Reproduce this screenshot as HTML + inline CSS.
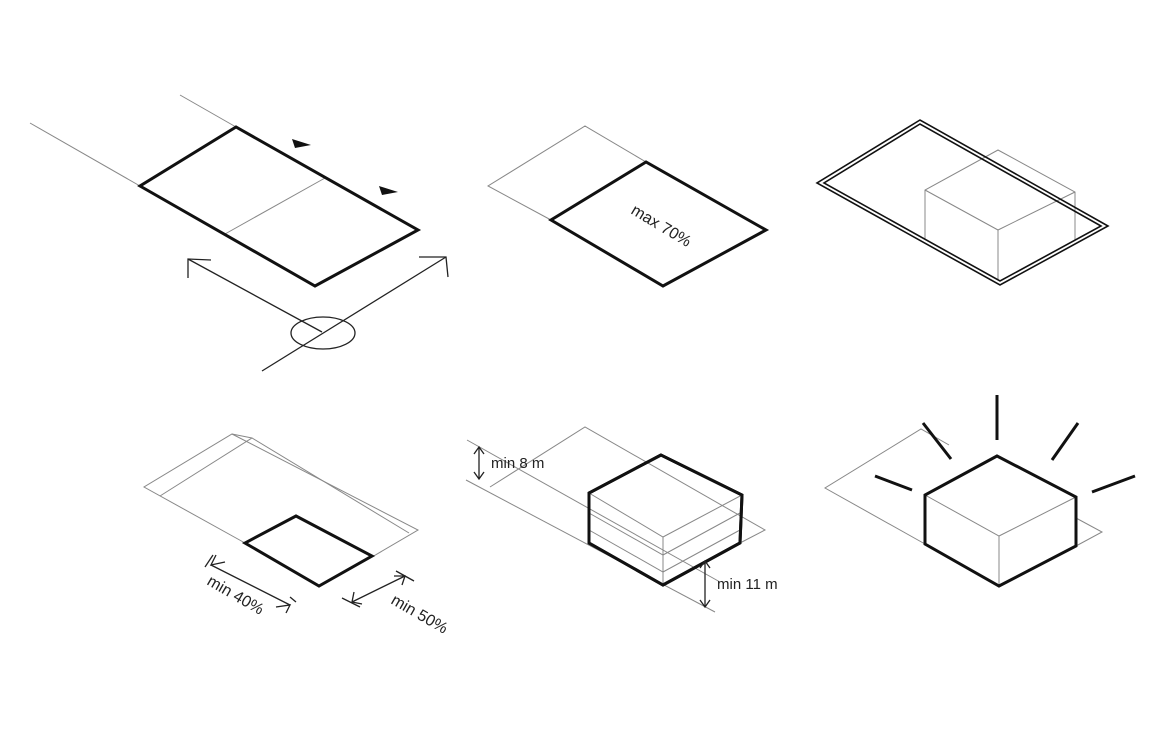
<!DOCTYPE html>
<html><head><meta charset="utf-8"><style>
html,body{margin:0;padding:0;background:#fff;}
svg{display:block;}
text{font-family:"Liberation Sans",sans-serif;fill:#222;}
.t{stroke:#888;stroke-width:1;fill:none;}
.k{stroke:#111;stroke-width:3;fill:none;stroke-linejoin:miter;}
.m{stroke:#222;stroke-width:1.3;fill:none;}
</style></head><body>
<svg width="1170" height="731" viewBox="0 0 1170 731" xmlns="http://www.w3.org/2000/svg">
<!-- Panel 1 -->
<line class="t" x1="30" y1="123" x2="140" y2="186"/>
<line class="t" x1="180" y1="95" x2="236" y2="127"/>
<line class="t" x1="325" y1="178" x2="225" y2="234"/>
<polygon class="k" points="236,127 140,186 315,286 418,230"/>
<polygon points="292,139 311,145 295,148" fill="#111"/>
<polygon points="379,186 398,192 382,195" fill="#111"/>
<polyline class="m" points="322,332 188,259"/>
<polyline class="m" points="211,260 188,259 188,278"/>
<polyline class="m" points="262,371 446,257"/>
<polyline class="m" points="419,257 446,257 448,277"/>
<ellipse class="m" cx="323" cy="333" rx="32" ry="16"/>
<!-- Panel 2 -->
<polyline class="t" points="551,220 488,186 585,126 646,162"/>
<polygon class="k" points="646,162 551,220 663,286 766,230"/>
<text x="0" y="0" font-size="16" transform="translate(630,213) rotate(31)">max 70%</text>
<!-- Panel 3 -->
<polyline class="t" points="925,240 925,190 998,150 1075,192 1075,240"/>
<polyline class="t" points="925,190 998,230 1075,192"/>
<line class="t" x1="998" y1="230" x2="998" y2="280"/>
<polygon points="920,120 817,183 1000,285 1108,226" fill="none" stroke="#111" stroke-width="1.6"/>
<polygon points="920,124 824,183 1000,281 1101,226" fill="none" stroke="#111" stroke-width="1.6"/>
<!-- Panel 4 -->
<polyline class="t" points="245,543 144,487 232,434 418,530 372,557"/>
<polyline class="t" points="160,496 252,438 409,533"/>
<line class="t" x1="232" y1="434" x2="252" y2="438"/>
<polygon class="k" points="296,516 245,543 319,586 372,556"/>
<line class="m" x1="211" y1="565" x2="290" y2="605"/>
<polyline class="m" points="225,562 211,565 216,555"/>
<polyline class="m" points="276,607 290,605 286,613"/>
<line class="m" x1="213" y1="555" x2="205" y2="567"/>
<line class="m" x1="290" y1="597" x2="296" y2="602"/>
<text font-size="16" transform="translate(206,584) rotate(30)">min 40%</text>
<line class="m" x1="352" y1="602" x2="405" y2="576"/>
<polyline class="m" points="354,592 352,602 362,604"/>
<polyline class="m" points="394,576 405,576 402,585"/>
<line class="m" x1="342" y1="598" x2="360" y2="607"/>
<line class="m" x1="396" y1="571" x2="414" y2="581"/>
<text font-size="16" transform="translate(390,603) rotate(30)">min 50%</text>
<!-- Panel 5 -->
<polyline class="t" points="490,487 585,427 765,530 740,543"/>
<line class="t" x1="467" y1="440" x2="720" y2="582"/>
<line class="t" x1="466" y1="480" x2="715" y2="612"/>
<polygon class="k" points="661,455 589,493 589,543 663,585 740,543 742,495" fill="#fff"/>
<polyline class="t" points="589,513 663,555 740,513"/>
<polyline class="t" points="589,530 663,572 740,530"/>
<polyline class="t" points="589,493 663,537 742,495"/>
<line class="t" x1="663" y1="537" x2="663" y2="585"/>
<polygon class="k" points="661,455 589,493 589,543 663,585 740,543 742,495"/>
<line class="m" x1="479" y1="447" x2="479" y2="479"/>
<polyline class="m" points="474,454 479,447 484,454"/>
<polyline class="m" points="474,472 479,479 484,472"/>
<text x="491" y="468" font-size="15">min 8 m</text>
<line class="m" x1="705" y1="561" x2="705" y2="607"/>
<polyline class="m" points="700,568 705,561 710,568"/>
<polyline class="m" points="700,600 705,607 710,600"/>
<text x="717" y="589" font-size="15">min 11 m</text>
<!-- Panel 6 -->
<polyline class="t" points="925,544 825,488 921,429 949,445"/>
<polyline class="t" points="1076,518 1102,532 1076,546"/>
<polyline class="t" points="925,495 999,536 1076,497"/>
<line class="t" x1="999" y1="536" x2="999" y2="586"/>
<polygon class="k" points="997,456 925,495 925,544 999,586 1076,546 1076,497"/>
<g stroke="#111" stroke-width="3">
<line x1="997" y1="395" x2="997" y2="440"/>
<line x1="923" y1="423" x2="951" y2="459"/>
<line x1="1078" y1="423" x2="1052" y2="460"/>
<line x1="875" y1="476" x2="912" y2="490"/>
<line x1="1135" y1="476" x2="1092" y2="492"/>
</g>
</svg>
</body></html>
